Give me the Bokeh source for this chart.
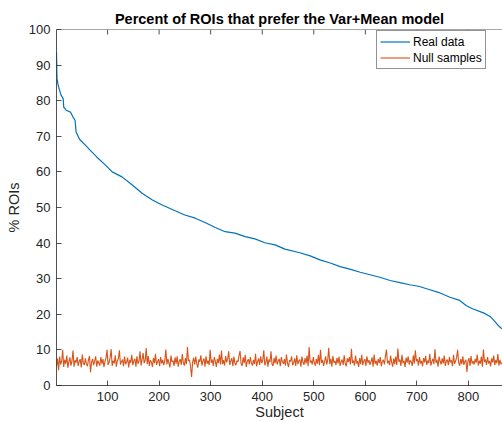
from bokeh.plotting import figure
from bokeh.models import Range1d, FixedTicker, Legend, LegendItem, ColumnDataSource, Span
from bokeh.embed import file_html
from bokeh.resources import INLINE

# ---- data ----
real_subject = [1, 2, 4, 6, 10, 14, 15, 20, 28, 33, 37, 39, 46, 57, 66, 79, 96, 109, 128, 148,
                167, 187, 206, 231, 250, 270, 289, 309, 328, 347, 367, 386, 405, 425, 444, 473,
                493, 512, 532, 551, 570, 590, 609, 628, 648, 667, 686, 705, 725, 745, 764, 783,
                796, 809, 829, 842, 851, 858, 865]
real_pct = [93.6, 86.2, 84.5, 83.4, 81.5, 80.6, 78.2, 77.3, 76.8, 75.4, 74.5, 71.2, 69.1, 67.5,
            66.1, 64.2, 61.9, 60.0, 58.6, 56.3, 54.0, 52.1, 50.7, 49.1, 47.9, 47.0, 45.8, 44.4,
            43.2, 42.8, 41.8, 41.2, 40.1, 39.5, 38.3, 37.3, 36.4, 35.3, 34.4, 33.4, 32.7, 31.8,
            31.1, 30.4, 29.5, 28.9, 28.3, 27.8, 26.9, 26.0, 24.8, 23.9, 22.4, 21.5, 20.4, 19.4,
            18.0, 16.8, 15.9]

null_pct = [
    5.4, 7.6, 4.3, 8.1, 5.9, 6.8, 10.0, 5.2, 7.3, 6.1, 8.4, 5.0, 6.7, 7.9, 5.6, 6.9, 9.8, 5.3, 7.1, 6.4,
    8.0, 5.5, 6.8, 7.4, 5.1, 8.7, 6.2, 5.8, 7.6, 6.0, 5.4, 7.2, 8.3, 3.7, 6.6, 7.5, 5.7, 6.9, 8.2, 5.3,
    7.0, 6.3, 5.6, 8.0, 6.1, 7.4, 5.2, 6.8, 7.7, 10.0, 5.8, 6.5, 7.9, 10.2, 5.5, 7.0, 6.2, 8.5, 5.3, 6.9,
    7.6, 9.9, 5.9, 6.7, 7.3, 5.4, 8.1, 6.0, 6.6, 7.8, 5.1, 7.2, 6.4, 8.6, 5.7, 6.9, 7.5, 5.3, 8.2, 6.1,
    6.8, 9.6, 5.6, 7.4, 9.1, 6.3, 7.0, 10.5, 6.0, 8.3, 5.5, 7.1, 6.6, 5.2, 7.8, 6.3, 8.9, 5.8, 6.7, 7.4,
    5.4, 8.0, 6.2, 7.2, 5.7, 6.9, 10.1, 5.9, 7.5, 6.3, 5.1, 8.4, 6.6, 7.0, 5.5, 7.9, 6.1, 8.2, 5.3, 6.8,
    7.4, 5.8, 8.8, 6.4, 5.6, 7.7, 6.0, 10.8, 6.9, 7.2, 5.4, 2.4, 6.5, 7.8, 5.9, 8.1, 6.2, 5.0, 7.3, 6.7,
    8.5, 5.6, 6.9, 7.6, 5.3, 8.2, 6.1, 7.0, 5.7, 10.0, 6.4, 7.3, 5.5, 8.0, 6.8, 5.2, 7.5, 6.3, 8.7, 5.9,
    9.8, 6.0, 7.1, 5.6, 8.3, 6.5, 7.4, 9.6, 5.8, 6.9, 7.7, 5.4, 8.1, 6.2, 5.7, 7.0, 6.6, 8.4, 9.7, 6.1,
    5.5, 7.9, 6.3, 8.6, 5.2, 6.8, 7.4, 5.9, 8.0, 6.4, 5.6, 7.2, 6.0, 8.9, 5.4, 6.7, 7.6, 5.8, 8.2, 6.3,
    7.0, 9.9, 5.7, 6.5, 8.1, 5.3, 7.3, 6.6, 9.6, 6.0, 5.5, 7.8, 6.2, 8.4, 5.9, 6.9, 7.5, 5.4, 8.0, 6.7,
    6.1, 7.4, 5.6, 8.7, 6.3, 5.2, 7.1, 6.8, 8.2, 5.7, 6.4, 7.6, 5.5, 8.5, 6.0, 6.9, 7.3, 5.3, 8.1, 6.6,
    5.8, 7.7, 6.2, 8.4, 5.4, 10.8, 6.5, 7.0, 5.9, 8.0, 6.3, 5.6, 7.4, 6.1, 8.6, 5.7, 10.0, 6.4, 7.2, 5.5,
    6.8, 8.2, 5.9, 7.1, 10.6, 6.0, 7.5, 5.3, 8.3, 6.4, 6.9, 5.7, 7.8, 6.2, 8.1, 5.5, 6.7, 7.3, 5.8, 8.5,
    6.1, 5.4, 7.6, 6.6, 8.0, 5.9, 10.3, 6.3, 7.0, 5.6, 8.4, 6.2, 6.8, 5.2, 7.7, 6.0, 8.6, 5.7, 6.9, 7.4,
    5.5, 8.2, 6.4, 7.1, 5.8, 6.6, 7.9, 5.3, 8.7, 6.1, 6.9, 5.6, 7.5, 6.3, 8.0, 5.4, 6.8, 7.2, 5.9, 8.3,
    10.1, 6.2, 7.0, 5.7, 8.4, 6.5, 5.3, 7.6, 6.0, 8.1, 5.8, 10.4, 6.7, 7.3, 5.5, 8.6, 6.3, 6.9, 5.2, 7.8,
    6.4, 8.2, 5.9, 7.1, 6.6, 5.5, 8.5, 6.1, 9.9, 6.8, 7.4, 5.6, 8.0, 6.2, 6.9, 5.4, 7.7, 6.5, 8.3, 5.8,
    7.0, 6.3, 8.8, 5.6, 6.7, 7.5, 6.0, 10.2, 6.4, 7.2, 5.3, 8.1, 6.8, 5.9, 7.6, 6.2, 8.4, 5.5, 6.9, 7.3,
    5.7, 8.0, 6.5, 7.1, 5.4, 8.6, 6.1, 6.8, 7.9, 10.0, 6.3, 5.6, 7.4, 6.0, 8.2, 5.8, 6.7, 7.2, 3.8, 6.9,
    7.7, 5.5, 8.3, 6.2, 6.8, 5.9, 7.5, 6.4, 8.7, 5.6, 7.0, 6.1, 8.1, 5.3, 10.1, 6.6, 7.3, 5.8, 8.0, 6.2,
    6.9, 5.4, 7.6, 6.5, 8.4, 5.7, 7.1, 6.3, 8.8, 5.6, 7.2, 6.0, 6.4,
]
null_subject = list(range(1, 866, 2))

x_ticks = [100, 200, 300, 400, 500, 600, 700, 800]
y_ticks = [0, 10, 20, 30, 40, 50, 60, 70, 80, 90, 100]
x_limits = (1, 866)
y_limits = (0, 100)

title_text = "Percent of ROIs that prefer the Var+Mean model"
x_label = "Subject"
y_label = "% ROIs"
series_names = ["Real data", "Null samples"]

FONT = "Liberation Sans"
AX = "#262626"
BLUE = "#0072BD"
ORANGE = "#D95319"

p = figure(width=502, height=422, output_backend="svg", toolbar_location=None,
           x_range=Range1d(*x_limits), y_range=Range1d(*y_limits),
           min_border_left=56, min_border_right=0, min_border_top=29, min_border_bottom=36)

p.title.text = title_text
p.title.align = "center"
p.title.text_font = FONT
p.title.text_font_size = "14.5px"
p.title.text_font_style = "bold"
p.title.text_color = "#000000"
p.title.standoff = 6
p.title.offset = 0

p.grid.visible = False
p.outline_line_color = None
p.background_fill_color = "white"
p.border_fill_color = "white"

def style_axis(ax):
    ax.axis_line_color = AX
    ax.axis_line_width = 0.8
    ax.major_tick_line_color = AX
    ax.major_tick_line_width = 0.8
    ax.major_tick_in = 5
    ax.major_tick_out = 0
    ax.minor_tick_line_color = None
    ax.major_label_text_font = FONT
    ax.major_label_text_font_size = "13px"
    ax.major_label_text_color = AX
    ax.axis_label_text_font = FONT
    ax.axis_label_text_font_size = "14.5px"
    ax.axis_label_text_font_style = "normal"
    ax.axis_label_text_color = AX

xa = p.xaxis[0]
ya = p.yaxis[0]
xa.ticker = FixedTicker(ticks=x_ticks)
ya.ticker = FixedTicker(ticks=y_ticks)
style_axis(xa)
style_axis(ya)
xa.axis_label = x_label
ya.axis_label = y_label
xa.major_label_standoff = 6
xa.axis_label_standoff = 0
ya.major_label_standoff = 6
ya.axis_label_standoff = 4

# top box edge with inward ticks (MATLAB "box on")
p.add_layout(Span(location=y_limits[1], dimension="width", line_color=AX, line_width=0.8))
tick_len = 1.4
p.segment(x0=x_ticks, x1=x_ticks, y0=[y_limits[1]] * len(x_ticks),
          y1=[y_limits[1] - tick_len] * len(x_ticks), line_color=AX, line_width=0.8)

src_real = ColumnDataSource(dict(x=real_subject, y=real_pct))
src_null = ColumnDataSource(dict(x=null_subject, y=null_pct))
r_null = p.line("x", "y", source=src_null, line_color=ORANGE, line_width=1.1)
r_real = p.line("x", "y", source=src_real, line_color=BLUE, line_width=1.2)

legend = Legend(items=[LegendItem(label=series_names[0], renderers=[r_real]),
                       LegendItem(label=series_names[1], renderers=[r_null])],
                location=(320, 316))
legend.label_text_font = FONT
legend.label_text_font_size = "12px"
legend.label_text_color = "#000000"
legend.glyph_width = 30
legend.glyph_height = 15
legend.label_height = 15
legend.label_standoff = 3
legend.padding = 3
legend.spacing = 1
legend.margin = 0
legend.border_line_color = AX
legend.border_line_width = 0.8
legend.background_fill_alpha = 1
p.add_layout(legend)

open("out.html", "w").write(file_html(p, INLINE))
